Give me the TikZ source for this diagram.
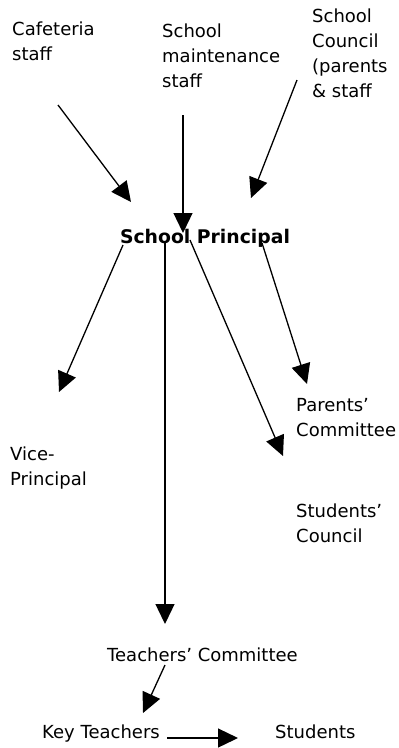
\documentclass[tikz,border=0pt]{standalone}
\usepackage{fontspec}
\setmainfont{DejaVu Sans}
\usepackage{tikz}
\usetikzlibrary{arrows.meta, calc}
\tikzset{
    lbl/.style={anchor=base west, align=left, inner sep=0pt, font=\fontsize{18}{25}\selectfont},
    boss/.style={anchor=base, inner sep=0pt, font=\fontsize{18.8}{25}\selectfont\bfseries},
    orgarrow/.style={-{Triangle[length=20pt, width=19pt]}, line width=1.3pt},
}

\begin{document}
\begin{tikzpicture}[x=1pt, y=-1pt]
        \useasboundingbox (0,0) rectangle (399,748);
        % Staff and council (top row); base = last line
        \node[lbl] (cafe) at (12,60)    {Cafeteria\\staff};
        \node[lbl] (maint) at (162,87)  {School\\maintenance\\staff};
        \node[lbl] (council) at (312,97) {School\\Council\\(parents\\\& staff};
        % Principal
        \node[boss] (prin) at (205,243) {School Principal};
        % Below the principal
        \node[lbl] (vice) at (10,485)     {Vice-\\Principal};
        \node[lbl] (parents) at (296,436) {Parents'\\Committee};
        \node[lbl] (scouncil) at (296,542) {Students'\\Council};
        \node[lbl] (teach) at (107,661)   {Teachers' Committee};
        \node[lbl] (key) at (42,738)      {Key Teachers};
        \node[lbl] (stud) at (275,738)    {Students};
        % Arrows into the principal
        \draw[orgarrow] ($(cafe.base west)+(46,45)$) -- ($(prin.base)+(-74,-41)$);
        \draw[orgarrow] ($(maint.base west)+(21,28)$) -- ($(prin.base)+(-22,-10)$);
        \draw[orgarrow] ($(council.base west)+(-15,-17)$) -- ($(prin.base)+(46,-45)$);
        % Arrows out of the principal
        \draw[orgarrow] ($(prin.base)+(-82,2)$) -- ($(vice.base west)+(49,-93)$);
        \draw[orgarrow] ($(prin.base)+(-40,0)$) -- ($(teach.base west)+(58,-37)$);
        \draw[orgarrow] ($(prin.base)+(-15,-3)$) -- ($(scouncil.base west)+(-13,-86)$);
        \draw[orgarrow] ($(prin.base)+(57,0)$) -- ($(parents.base west)+(11,-52)$);
        % Teachers down to students
        \draw[orgarrow] ($(teach.base west)+(58,4)$) -- ($(key.base west)+(101,-25)$);
        \draw[orgarrow] ($(key.base west)+(125,0)$) -- ($(stud.base west)+(-37,0)$);
    \end{tikzpicture}
\end{document}
